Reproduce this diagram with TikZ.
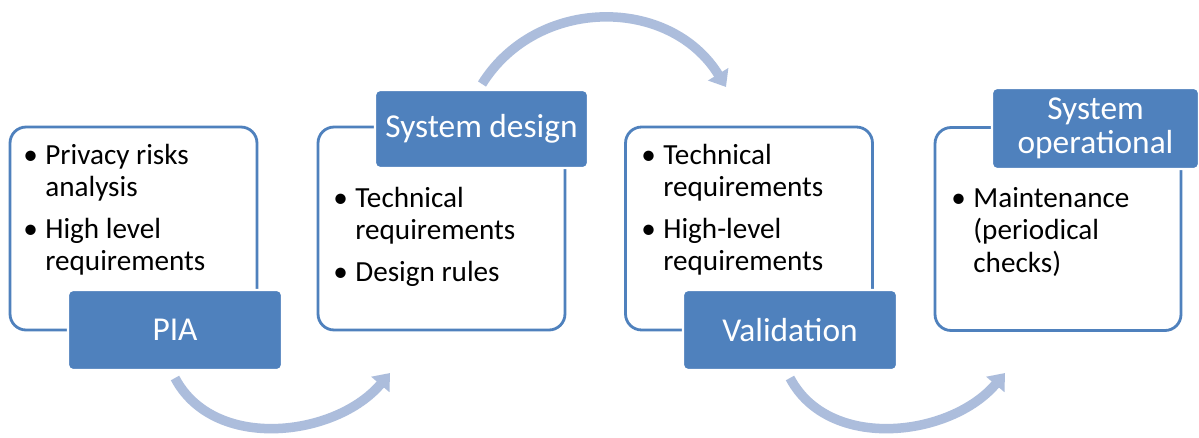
\documentclass[tikz,border=0pt]{standalone}
\usepackage{fontspec}
\setmainfont{Carlito}
\usepackage{tikz}
\usetikzlibrary{arrows.meta, positioning}

\definecolor{hdrblue}{RGB}{79,129,189}
\definecolor{flowblue}{RGB}{172,189,220}

\newcommand{\bodyfont}{\fontsize{16.6}{18.6}\selectfont}
\newcommand{\hdrfont}{\fontsize{19}{19.6}\selectfont}

\begin{document}
\begin{tikzpicture}[x=0.02cm, y=-0.02cm,
					stage/.style={draw=hdrblue, line width=1.6pt, fill=white,
						rounded corners=0.32cm, minimum width=4.94cm, minimum height=4.06cm},
					hdr/.style={fill=hdrblue, draw=white, line width=1.2pt, text=white,
						rounded corners=0.1cm, font=\hdrfont, align=center,
						minimum width=4.28cm, minimum height=1.6cm},
					items/.style={anchor=base west, inner sep=0pt, font=\bodyfont},
					flow/.style={draw=flowblue, line width=0.19cm,
						-{Triangle[width=0.46cm, length=0.3cm]}}]

	\useasboundingbox[fill=white] (0,0) rectangle (1199,437);

	% the four stages
	\node[stage] (s1) at (133.5,228.5) {};
	\node[stage] (s2) at (441.5,228.5) {};
	\node[stage] (s3) at (749,228.5) {};
	\node[stage, minimum width=4.92cm] (s4) at (1058,229) {};

	\node[hdr] (pia) at (175,330) {PIA};
	\node[hdr, minimum width=4.26cm, minimum height=1.56cm] (design) at (481.5,129) {System design};
	\node[hdr] (valid) at (790,330) {Validation};
	\node[hdr, minimum width=4.14cm, minimum height=1.62cm] (oper) at (1095.5,128.5) {System\\operational};

	\node[items] (t1) at (23,164) {\begin{tabular}[t]{@{}p{0.44cm}@{}l@{}}
		\textbullet & Privacy risks\\ & analysis\\[5pt]
		\textbullet & High level\\ & requirements
	\end{tabular}};
	\node[items] (t2) at (333,207) {\begin{tabular}[t]{@{}p{0.44cm}@{}l@{}}
		\textbullet & Technical\\ & requirements\\[5pt]
		\textbullet & Design rules
	\end{tabular}};
	\node[items] (t3) at (641,164) {\begin{tabular}[t]{@{}p{0.44cm}@{}l@{}}
		\textbullet & Technical\\ & requirements\\[5pt]
		\textbullet & High-level\\ & requirements
	\end{tabular}};
	\node[items] (t4) at (951,207) {\begin{tabular}[t]{@{}p{0.44cm}@{}l@{}}
		\textbullet & Maintenance\\ & (periodical\\ & checks)
	\end{tabular}};

	% curved arrows between stages
	\coordinate (pia-out) at (175,378);
	\coordinate (s2-in) at (390,373);
	\coordinate (design-out) at (482,84);
	\coordinate (s3-in) at (726,87);
	\coordinate (valid-out) at (790,378);
	\coordinate (s4-in) at (1005,373);

	\draw[flow] (pia-out) .. controls (214,452) and (336,437) .. (s2-in);
	\draw[flow] (design-out) .. controls (537,-4) and (670,-4) .. (s3-in);
	\draw[flow] (valid-out) .. controls (829,452) and (951,437) .. (s4-in);
\end{tikzpicture}
\end{document}
